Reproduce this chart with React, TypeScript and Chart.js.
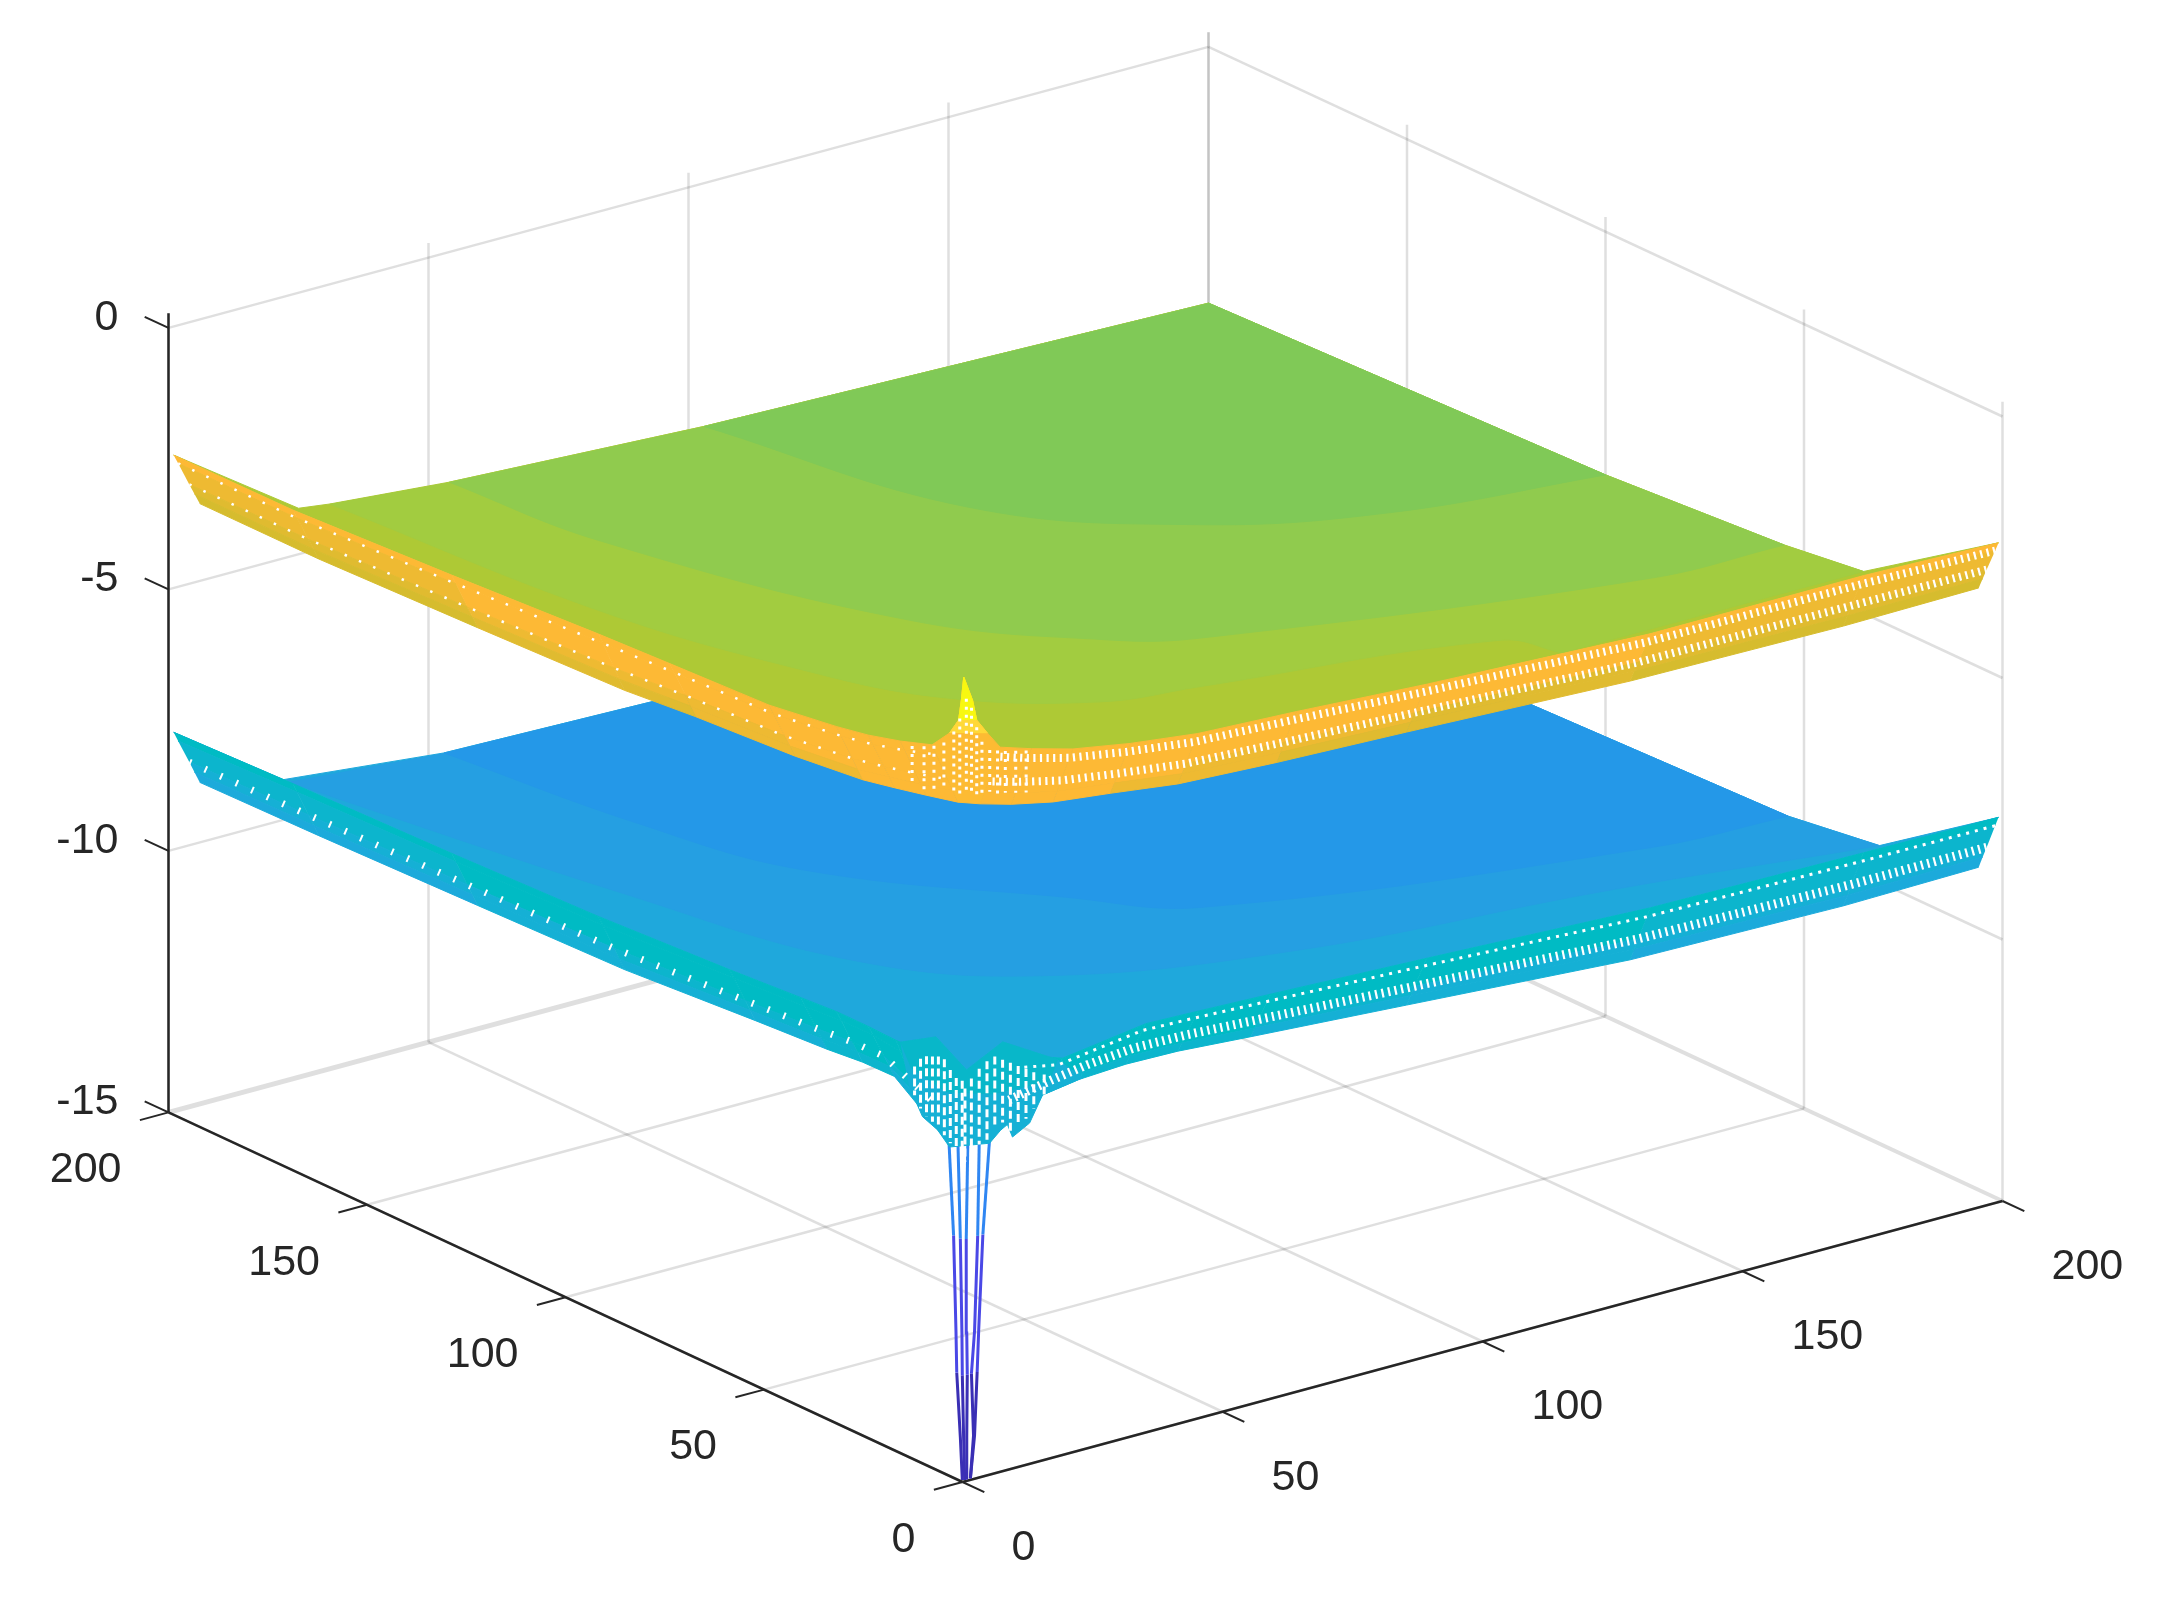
import { useEffect, useRef } from 'react';
import { Chart, registerables } from 'chart.js';

Chart.register(...registerables);

// axis ticks
const xTicks = [0, 50, 100, 150, 200];
const yTicks = [0, 50, 100, 150, 200];
const zTicks = [-15, -10, -5, 0];
const zMax = 0.28;

// colour steps of the surfaces: upper limit of z, colour
const levelZ = [-13, -10.4, -8.9, -8.6, -8.3, -8.0, -7, -3.3, -3.05, -2.75, -1.0, -0.5, 1];
const levelColor = ['#3A2FB5', '#4A48E6', '#2F86F2', '#1CAADB', '#15B0D5', '#0CB5CD', '#00BBC4', '#D6BC2E', '#E0BB30', '#EEBA32', '#FDB935', '#FFD838', '#F8F810'];

// rows across the steep edge bands (x for the left band, y for the right band)
const bandRows = [1, 1.85, 4, 5, 6];

// upper surface, edge bands
const upperLeftY = [200, 170, 130, 93, 75, 50, 33, 25, 17, 9];
const upperLeftZ = [
  [-2.46, -2.45, -2.28, -2.1, -2.03, -1.94, -1.75, -1.63, -1.46, -1.25],
  [-2.64, -2.63, -2.47, -2.3, -2.22, -2.13, -1.95, -1.83, -1.66, -1.46],
  [-3.1, -3.09, -2.97, -2.83, -2.72, -2.61, -2.44, -2.31, -2.16, -1.99],
  [-3.31, -3.31, -3.19, -3.07, -2.95, -2.83, -2.67, -2.54, -2.4, -2.23],
  [-3.52, -3.52, -3.42, -3.31, -3.18, -3.05, -2.9, -2.77, -2.63, -2.48],
];
const upperRightX = [200, 174, 133, 90, 65, 46, 33, 22, 14, 8];
const upperRightZ = [
  [-2.45, -2.38, -2.39, -2.2, -2.05, -1.96, -1.8, -1.61, -1.39, -1.2],
  [-2.63, -2.58, -2.58, -2.38, -2.24, -2.15, -1.99, -1.81, -1.6, -1.41],
  [-3.07, -3.06, -3.04, -2.85, -2.74, -2.64, -2.48, -2.32, -2.13, -1.96],
  [-3.28, -3.29, -3.25, -3.07, -2.97, -2.87, -2.7, -2.56, -2.38, -2.21],
  [-3.49, -3.52, -3.47, -3.29, -3.2, -3.1, -2.93, -2.8, -2.63, -2.46],
];

// upper surface, contours of the flat part
const upperFarX = [1, 25, 31, 54, 103, 200];
const upperFarZ = [-2.46, -4.12, -4.2, -4.4, -4.65, -4.9];
const upperSideY = [100, 55, 35];
const upperSideZ = [-4.65, -4.4, -4.2];
const arc3X = [31, 36, 45, 55, 73, 89, 138, 142];
const arc3Y = [200, 138, 100, 77, 61, 57, 45, 35];
const arc2X = [54, 57, 74, 93, 105, 175, 200];
const arc2Y = [200, 166, 110, 85, 77, 56, 55];
const arc1X = [103, 114, 137, 164, 200];
const arc1Y = [200, 148, 121, 107, 100];

// upper peak
const peakX = [1, 1, 1, 1, 1, 2.7, 3.5, 5.6, 8];
const peakY = [9, 4.6, 2.3, 1.6, 1, 1, 1, 1, 1];
const peakZ = [-1.25, -0.87, -0.54, -0.13, 0.33, -0.16, -0.56, -0.87, -1.2];
const peakHatchX = [1, 1, 1, 1, 1, 1, 1.5, 2.5, 3.5, 4.5, 6, 7.5, 9, 11, 13];
const peakHatchY = [14, 11, 8.5, 6, 3.5, 2, 1, 1, 1, 1, 1, 1, 1, 1, 1];
const peakHatchTop = [-1.45, -1.35, -1.25, -1.1, -0.8, -0.5, -0.1, -0.3, -0.7, -1, -1.2, -1.25, -1.3, -1.35, -1.4];
const peakHatchBottom = [-2.2, -2.2, -2.1, -2, -2, -2, -1.9, -1.9, -2, -2, -2, -2.1, -2.1, -2.15, -2.2];

// lower surface, edge bands
const lowerLeftY = [200, 170, 130, 93, 60, 42, 33, 25, 18, 12];
const lowerLeftZ = [
  [-7.76, -7.68, -7.6, -7.5, -7.35, -7.25, -7.2, -7.2, -7.22, -7.2],
  [-7.95, -7.87, -7.79, -7.69, -7.54, -7.44, -7.39, -7.38, -7.46, -7.51],
  [-8.41, -8.36, -8.28, -8.19, -8.02, -7.92, -7.86, -7.85, -8.1, -8.31],
  [-8.63, -8.59, -8.5, -8.42, -8.24, -8.15, -8.08, -8.07, -8.39, -8.68],
  [-8.85, -8.81, -8.73, -8.65, -8.46, -8.37, -8.3, -8.29, -8.69, -9.05],
];
const lowerRightX = [200, 174, 133, 90, 60, 46, 36, 27, 20, 12];
const lowerRightZ = [
  [-7.7, -7.68, -7.63, -7.44, -7.32, -7.27, -7.24, -7.37, -7.47, -7.2],
  [-7.89, -7.88, -7.83, -7.62, -7.49, -7.43, -7.4, -7.52, -7.62, -7.47],
  [-8.38, -8.39, -8.33, -8.08, -7.91, -7.83, -7.81, -7.89, -8, -8.16],
  [-8.6, -8.63, -8.57, -8.29, -8.11, -8.02, -8, -8.07, -8.17, -8.48],
  [-8.83, -8.87, -8.8, -8.51, -8.31, -8.21, -8.19, -8.24, -8.35, -8.8],
];

// lower surface, contours of the flat part
const lowerFarX = [1, 22, 53, 200];
const lowerFarZ = [-7.76, -9.23, -9.55, -9.9];
const lowerSideY = [54, 31];
const lowerSideZ = [-9.55, -9.3];
const arcBX = [23, 35, 45, 64, 102, 154, 200];
const arcBY = [200, 129, 87, 64, 49, 41, 31];
const arcAX = [53, 58, 66, 91, 105, 175, 200];
const arcAY = [200, 159, 127, 93, 77, 56, 54];

// lower flare round the pit
const flareX = [1, 1, 1, 8.5, 19, 25.4, 17.7, 15.2, 11.9, 10.8, 7.5, 3, 3, 3, 3];
const flareY = [17, 8, 0.3, 1, 1, 3, 3, 3, 3, 3, 3, 7.2, 10.2, 14, 17.3];
const flareZ = [-7.22, -6.8, -7.16, -6.85, -7.47, -8.06, -8.18, -8.65, -8.83, -8.53, -8.83, -8.93, -8.71, -8.59, -8.14];
const flareTopX = [1, 1, 1, 8.5, 19, 19, 8, 3, 3];
const flareTopY = [17, 8, 0.3, 1, 1, 3, 3, 8, 17];
const flareTopZ = [-7.22, -6.8, -7.16, -6.85, -7.47, -7.95, -7.9, -7.9, -7.75];
const flareHatchX = [3, 3, 3, 3, 3, 3, 3, 3, 3, 2, 4, 5.5, 7, 8.5, 10, 11.5, 13, 14.5, 16, 18];
const flareHatchY = [16, 14.5, 13, 11.5, 10, 8.5, 7, 5.5, 4, 2, 3, 3, 3, 3, 3, 3, 3, 3, 3, 3];
const flareHatchTop = [-7.7, -7.5, -7.4, -7.35, -7.3, -7.3, -7.45, -7.55, -7.55, -7.6, -7.5, -7.35, -7.25, -7.2, -7.3, -7.4, -7.5, -7.6, -7.7, -7.8];
const flareHatchBottom = [-8.25, -8.45, -8.55, -8.6, -8.65, -8.75, -8.85, -8.85, -8.95, -9, -8.95, -8.8, -8.75, -8.5, -8.5, -8.7, -8.6, -8.55, -8.4, -8.25];

// strands of the deep pit
const pitZ = [-15, -14.2, -13, -12.2, -10.4, -8.6, -8];
const pitStrandX = [
  [0.5, 0.5, 0.5, 0.5, 0.5, 0.5, 0.5],
  [0.8, 0.6, 0.5, 0.5, 0.5, 0.5, 0.5],
  [1.2, 1.2, 1.3, 1.2, 1.1, 1.4, 0.8],
  [1.9, 2.5, 2.1, 2.7, 3.3, 3.6, 4.3],
  [1.9, 2.7, 3.2, 3.5, 4.3, 5.6, 7.5],
];
const pitStrandY = [
  [0.7, 1.2, 2.1, 2.3, 2.9, 4.1, 5.6],
  [0.5, 0.5, 0.7, 0.8, 1.2, 1.8, 3.9],
  [0.5, 0.5, 0.5, 0.5, 0.5, 0.5, 0.5],
  [0.5, 0.5, 0.5, 0.5, 0.5, 0.5, 0.5],
  [0.5, 0.5, 0.5, 0.5, 0.5, 0.5, 0.5],
];

const GRID = 'rgba(38,38,38,0.15)';
const INK = '#262626';

// fixed view of the 3d box, in canvas units
function project(x: number, y: number, z: number) {
  return { x: 962.5 + 5.2 * x - 3.97 * y, y: 1482 - 1.405 * x - 1.848 * y - (z + 15) * 52.3 };
}

function colorFor(z: number) {
  const i = levelZ.findIndex((l) => z < l);
  return levelColor[i < 0 ? levelColor.length - 1 : i];
}

type Pt = { x: number; y: number };

function polygon(data: Pt[], color: string) {
  return { data, showLine: true, fill: 'shape', backgroundColor: color, borderColor: color, borderWidth: 1, pointRadius: 0 };
}

// contour region: curved along the arc, straight along the box edges (doubled points keep the corners)
function contour(arc: Pt[], edge: Pt[], color: string) {
  const corners = edge.flatMap((p) => [p, p]);
  return { ...polygon([arc[0], ...arc, arc[arc.length - 1], ...corners], color), tension: 0.4 };
}

function line(data: Pt[], color: string, width: number, dash: number[] = []) {
  return { data, showLine: true, fill: false, borderColor: color, borderWidth: width, borderDash: dash, pointRadius: 0 };
}

function bandEdge(stations: number[], zRow: number[], row: number, leftBand: boolean) {
  return stations.map((s, j) => (leftBand ? project(row, s, zRow[j]) : project(s, row, zRow[j])));
}

function bandCells(stations: number[], table: number[][], leftBand: boolean) {
  const cells: any[] = [];
  for (let i = 0; i < bandRows.length - 1; i++) {
    const a = bandEdge(stations, table[i], bandRows[i], leftBand);
    const b = bandEdge(stations, table[i + 1], bandRows[i + 1], leftBand);
    for (let j = 0; j < stations.length - 1; j++) {
      const mean = (table[i][j] + table[i][j + 1] + table[i + 1][j] + table[i + 1][j + 1]) / 4;
      cells.push(polygon([a[j], a[j + 1], b[j + 1], b[j]], colorFor(mean)));
    }
  }
  return cells;
}

function buildDatasets() {
  const ds: any[] = [];

  // floor and walls
  xTicks.forEach((t) => {
    ds.push(line([project(t, 0, -15), project(t, 200, -15)], GRID, t === 200 ? 4 : 2.5));
    ds.push(line([project(t, 200, -15), project(t, 200, zMax)], GRID, 2.5));
  });
  yTicks.forEach((t) => {
    ds.push(line([project(0, t, -15), project(200, t, -15)], GRID, t === 200 ? 5 : 2.5));
    ds.push(line([project(200, t, -15), project(200, t, zMax)], GRID, 2.5));
  });
  zTicks.slice(1).forEach((t) => {
    ds.push(line([project(0, 200, t), project(200, 200, t)], GRID, 2.5));
    ds.push(line([project(200, 0, t), project(200, 200, t)], GRID, 2.5));
  });

  // front axes and tick marks
  ds.push(line([project(0, 0, -15), project(200, 0, -15)], INK, 2.5));
  ds.push(line([project(0, 0, -15), project(0, 200, -15)], INK, 2.5));
  ds.push(line([project(0, 200, -15), project(0, 200, zMax)], INK, 2.5));
  xTicks.forEach((t) => ds.push(line([project(t, 0, -15), project(t, -5.5, -15)], INK, 2)));
  yTicks.forEach((t) => ds.push(line([project(0, t, -15), project(-5.5, t, -15)], INK, 2)));
  zTicks.forEach((t) => ds.push(line([project(0, 200, t), project(0, 206, t)], INK, 2)));

  // lower surface
  const lowerTop = [
    ...bandEdge(lowerRightX, lowerRightZ[0], bandRows[0], false),
    ...flareX.slice(0, 5).reverse().map((x, i) => project(x, flareY[4 - i], flareZ[4 - i])),
    ...bandEdge(lowerLeftY, lowerLeftZ[0], bandRows[0], true).reverse(),
  ];
  ds.push(
    polygon(
      [
        ...lowerFarX.map((x, i) => project(x, 200, lowerFarZ[i])),
        ...lowerSideY.map((y, i) => project(200, y, lowerSideZ[i])),
        ...lowerTop,
      ],
      '#1FA8DC',
    ),
  );
  ds.push(
    contour(
      arcBX.map((x, i) => project(x, arcBY[i], -9.3)),
      [project(200, 54, -9.55), project(200, 200, -9.9), project(53, 200, -9.55)],
      '#259FE2',
    ),
  );
  ds.push(contour(arcAX.map((x, i) => project(x, arcAY[i], -9.55)), [project(200, 200, -9.9)], '#2498E8'));

  // pit strands
  pitStrandX.forEach((xs, s) => {
    ds.push({
      ...line(xs.map((x, i) => project(x, pitStrandY[s][i], pitZ[i])), '#4A48E6', 3),
      segment: { borderColor: (c: any) => colorFor(pitZ[c.p0DataIndex]) },
    });
  });

  ds.push(...bandCells(lowerLeftY, lowerLeftZ, true));
  ds.push(...bandCells(lowerRightX, lowerRightZ, false));
  ds.push(polygon(flareX.map((x, i) => project(x, flareY[i], flareZ[i])), '#15B0D5'));
  ds.push(polygon(flareTopX.map((x, i) => project(x, flareTopY[i], flareTopZ[i])), '#08B7C9'));
  flareHatchX.forEach((x, i) => {
    ds.push(line([project(x, flareHatchY[i], flareHatchTop[i]), project(x, flareHatchY[i], flareHatchBottom[i])], '#ffffff', 3, [8, 4]));
  });
  ds.push(line(bandEdge(lowerLeftY, lowerLeftZ[2], bandRows[2], true), '#ffffff', 7, [2, 15]));
  ds.push(line(bandEdge(lowerRightX, lowerRightZ[1], bandRows[1], false), '#ffffff', 3, [3, 6]));
  ds.push(line(bandEdge(lowerRightX, lowerRightZ[2], bandRows[2], false), '#ffffff', 9, [2.2, 4.4]));

  // upper surface
  const upperTop = [
    ...bandEdge(upperRightX, upperRightZ[0], bandRows[0], false),
    ...peakX.map((x, i) => project(x, peakY[i], peakZ[i])).reverse(),
    ...bandEdge(upperLeftY, upperLeftZ[0], bandRows[0], true).reverse(),
  ];
  ds.push(
    polygon(
      [
        ...upperFarX.map((x, i) => project(x, 200, upperFarZ[i])),
        ...upperSideY.map((y, i) => project(200, y, upperSideZ[i])),
        ...upperTop,
      ],
      '#AEC935',
    ),
  );
  ds.push(
    contour(
      arc3X.map((x, i) => project(x, arc3Y[i], -4.2)),
      [project(200, 35, -4.2), project(200, 55, -4.4), project(200, 100, -4.65), project(200, 200, -4.9), project(103, 200, -4.65), project(54, 200, -4.4)],
      '#A2CC40',
    ),
  );
  ds.push(
    contour(
      arc2X.map((x, i) => project(x, arc2Y[i], -4.4)),
      [project(200, 100, -4.65), project(200, 200, -4.9), project(103, 200, -4.65)],
      '#90CB4E',
    ),
  );
  ds.push(contour(arc1X.map((x, i) => project(x, arc1Y[i], -4.65)), [project(200, 200, -4.9)], '#80C957'));

  ds.push(...bandCells(upperLeftY, upperLeftZ, true));
  ds.push(...bandCells(upperRightX, upperRightZ, false));

  // peak, widest colour first
  const peak = peakX.map((x, i) => project(x, peakY[i], peakZ[i]));
  ds.push(polygon([...peak, project(8, 6, -2.46), project(6, 9, -2.48)], '#FDBB33'));
  ds.push(polygon(peak.slice(1, 8), '#FFD838'));
  ds.push(polygon(peak.slice(2, 7), '#F8F810'));
  peakHatchX.forEach((x, i) => {
    ds.push(line([project(x, peakHatchY[i], peakHatchTop[i]), project(x, peakHatchY[i], peakHatchBottom[i])], '#ffffff', 3, [3, 5]));
  });
  ds.push(line(bandEdge(upperLeftY, upperLeftZ[1], bandRows[1], true), '#ffffff', 2.5, [2.5, 13]));
  ds.push(line(bandEdge(upperLeftY, upperLeftZ[2], bandRows[2], true), '#ffffff', 2.5, [2.5, 13]));
  ds.push(line(bandEdge(upperRightX, upperRightZ[1], bandRows[1], false), '#ffffff', 8, [2.2, 4.4]));
  ds.push(line(bandEdge(upperRightX, upperRightZ[2], bandRows[2], false), '#ffffff', 8, [2.2, 4.4]));

  // first dataset is painted last by Chart.js, so turn the painter's order round
  return ds.reverse();
}

const tickLabels = {
  id: 'tickLabels',
  afterDraw(chart: any) {
    const { ctx, scales } = chart;
    const at = (p: Pt) => ({ x: scales.x.getPixelForValue(p.x), y: scales.y.getPixelForValue(p.y) });
    ctx.save();
    ctx.fillStyle = INK;
    ctx.font = '43px "Liberation Sans"';
    ctx.textBaseline = 'middle';
    ctx.textAlign = 'left';
    xTicks.forEach((t) => {
      const p = at(project(t, 0, -15));
      ctx.fillText(String(t), p.x + 49, p.y + 66);
    });
    ctx.textAlign = 'right';
    yTicks.forEach((t) => {
      const p = at(project(0, t, -15));
      ctx.fillText(String(t), p.x - 47, p.y + 58);
    });
    zTicks.forEach((t) => {
      const p = at(project(0, 200, t));
      ctx.fillText(String(t), p.x - 50, p.y - 10);
    });
    ctx.restore();
  },
};

export default function App() {
  const chartRef = useRef<HTMLCanvasElement>(null);

  useEffect(() => {
    if (!chartRef.current) return;
    const chart = new Chart(chartRef.current, {
      type: 'scatter',
      data: { datasets: buildDatasets() },
      options: {
        animation: false,
        responsive: false,
        devicePixelRatio: 1,
        layout: { padding: 0 },
        scales: {
          x: { type: 'linear', min: 0, max: 2182, display: false },
          y: { type: 'linear', min: 0, max: 1615, reverse: true, display: false },
        },
        plugins: { legend: { display: false }, tooltip: { enabled: false } },
        events: [],
      },
      plugins: [tickLabels],
    } as any);
    return () => chart.destroy();
  }, []);

  return (
    <div style={{ position: 'absolute', left: 0, top: 0, width: 2182, height: 1615, background: '#fff' }}>
      <canvas ref={chartRef} width={2182} height={1615} style={{ display: 'block' }} />
    </div>
  );
}
